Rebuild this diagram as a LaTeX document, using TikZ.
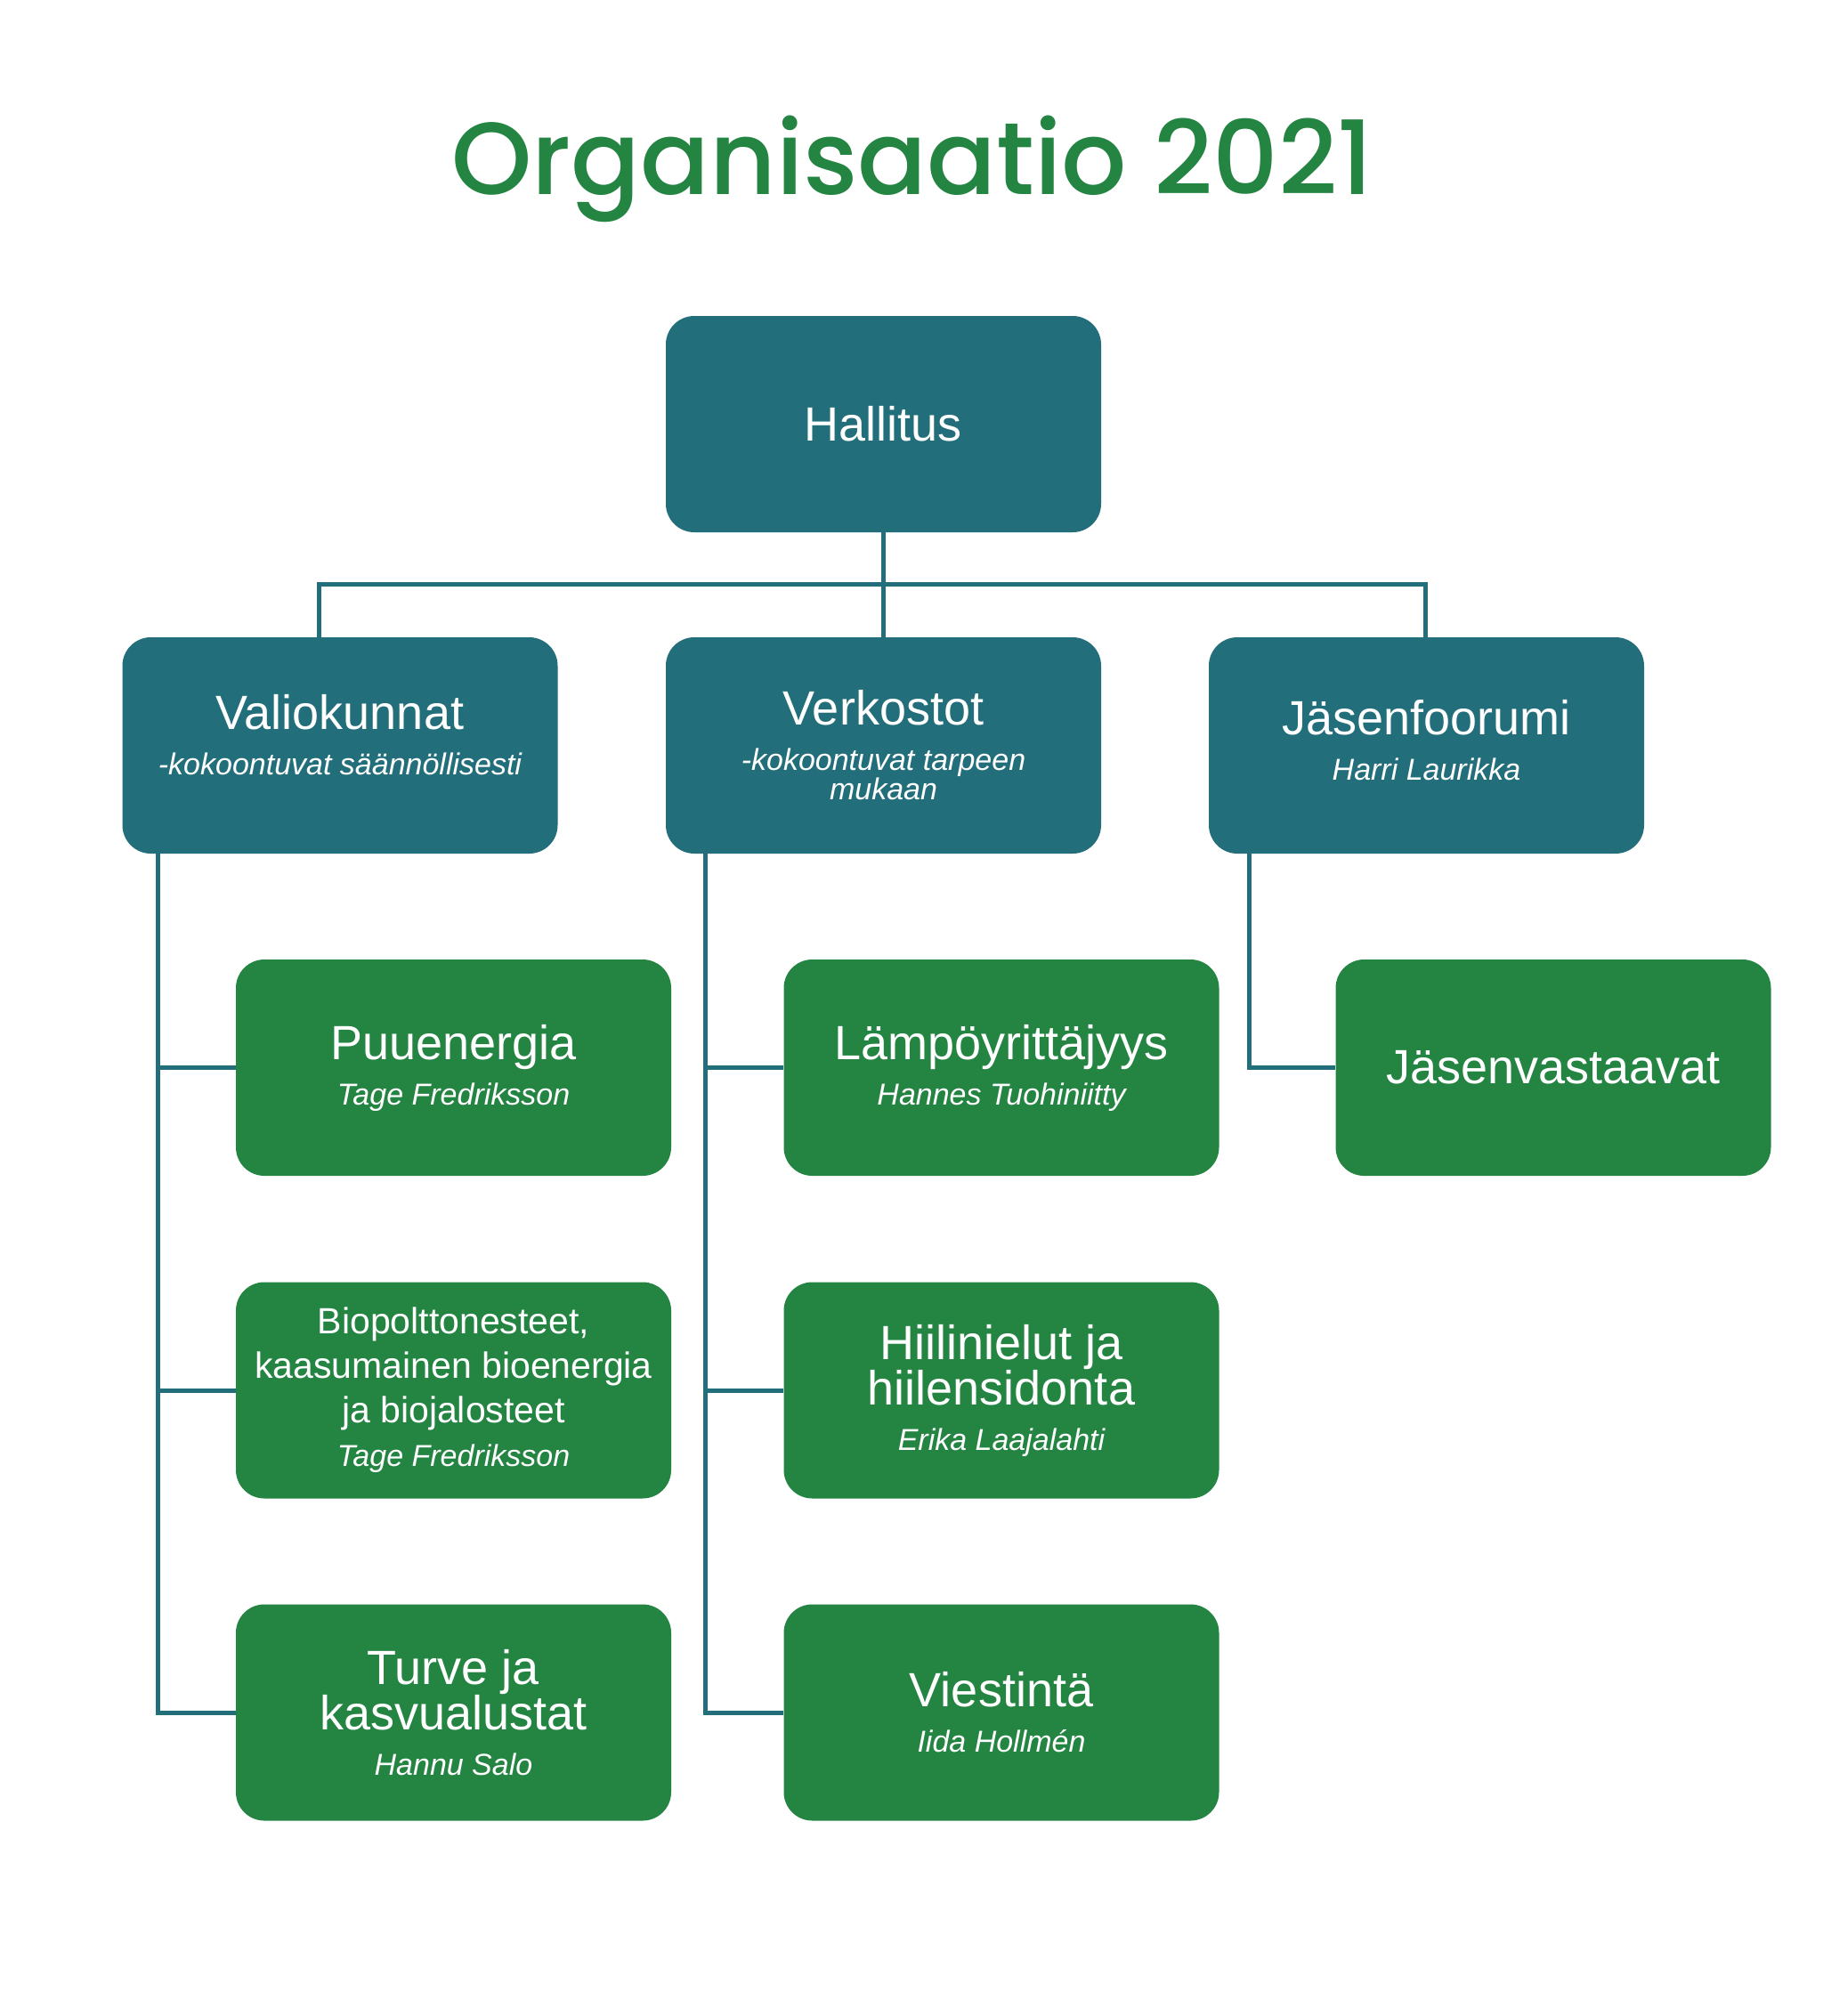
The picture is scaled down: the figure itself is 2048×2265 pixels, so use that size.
\documentclass[tikz,border=0pt]{standalone}
\usepackage{fontspec}
\setmainfont{Liberation Sans}
\newfontfamily\titlefont{Poppins Medium}
\usepackage{xcolor}
\usetikzlibrary{positioning}

\definecolor{orgteal}{HTML}{226E7A}
\definecolor{orggreen}{HTML}{248442}

\newcommand{\person}[1]{{\fontsize{17}{16}\selectfont\itshape #1}}
\newcommand{\padbelow}[1]{\rule[-#1]{0pt}{0pt}}

\begin{document}
\begin{tikzpicture}[
    x=0.5pt, y=-0.5pt,
    unitbox/.style={rectangle, rounded corners=16pt, fill=orgteal, text=white,
        minimum width=244.5pt, minimum height=121.5pt, inner sep=0pt,
        align=center, font=\fontsize{27}{25.5}\selectfont},
    teambox/.style={unitbox, fill=orggreen},
    link/.style={draw=orgteal, line width=2.5pt}
]
    \path[use as bounding box, fill=white] (0,0) rectangle (2048,2265);

    \node[font=\titlefont\fontsize{57.5}{57.5}\selectfont, text=orggreen, anchor=base] (title) at (1025,218) {Organisaatio 2021};

    % top level
    \node[unitbox] (hallitus) at (992.5,476.5) {Hallitus};
    \node[unitbox] (valiokunnat) at (382,837.5) {Valiokunnat\\ \person{-kokoontuvat säännöllisesti}\padbelow{12pt}};
    \node[unitbox] (verkostot) at (992.5,837.5) {Verkostot\\ \person{-kokoontuvat tarpeen}\\[-9pt] \person{mukaan}};
    \node[unitbox] (jasenfoorumi) at (1602.5,837.5) {Jäsenfoorumi\\ \person{Harri Laurikka}\padbelow{6pt}};

    % groups
    \node[teambox] (puuenergia) at (509.5,1199.5) {Puuenergia\\ \person{Tage Fredriksson}};
    \node[teambox, font=\fontsize{20.5}{24.8}\selectfont] (bio) at (509.5,1562) {Biopolttonesteet,\\ kaasumainen bioenergia\\ ja biojalosteet\\ \person{Tage Fredriksson}};
    \node[teambox] (turve) at (509.5,1924) {Turve ja\\ kasvualustat\\ \person{Hannu Salo}};
    \node[teambox] (lampo) at (1125,1199.5) {Lämpöyrittäjyys\\ \person{Hannes Tuohiniitty}};
    \node[teambox] (hiilinielut) at (1125,1562) {Hiilinielut ja\\ hiilensidonta\\ \person{Erika Laajalahti}};
    \node[teambox] (viestinta) at (1125,1924) {Viestintä\\ \person{Iida Hollmén}};
    \node[teambox] (jasenvastaavat) at (1745,1199.5) {Jäsenvastaavat};

    \coordinate (busleft) at (358,656);
    \coordinate (busright) at (1601.5,656);
    \coordinate (trunkA) at (177,0);
    \coordinate (trunkB) at (792,0);
    \coordinate (trunkC) at (1403,0);

    \draw[link] (hallitus) -- (verkostot);
    \draw[link] (valiokunnat.north -| busleft) -- (busleft) -- (busright) -- (jasenfoorumi.north -| busright);

    \draw[link] (valiokunnat.south -| trunkA) |- (turve.west);
    \draw[link] (trunkA |- puuenergia.west) -- (puuenergia.west);
    \draw[link] (trunkA |- bio.west) -- (bio.west);

    \draw[link] (verkostot.south -| trunkB) |- (viestinta.west);
    \draw[link] (trunkB |- lampo.west) -- (lampo.west);
    \draw[link] (trunkB |- hiilinielut.west) -- (hiilinielut.west);

    \draw[link] (jasenfoorumi.south -| trunkC) |- (jasenvastaavat.west);
\end{tikzpicture}
\end{document}
